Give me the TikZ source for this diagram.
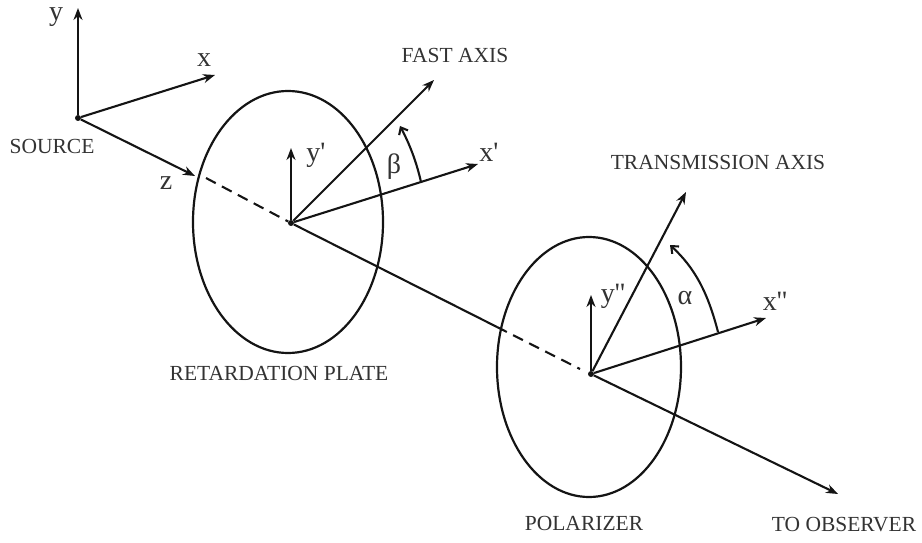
\documentclass[tikz,border=0pt]{standalone}
\usepackage{fontspec}
\setmainfont{Liberation Serif}
\newfontfamily\symfam{Liberation Serif}
\usetikzlibrary{arrows.meta}
\definecolor{ink}{gray}{0.08}
\definecolor{txt}{gray}{0.2}
\tikzset{
  axis/.style={draw=ink,line width=2.1pt,-{Stealth[length=12pt,width=9pt]}},
  plain/.style={draw=ink,line width=2.1pt},
  dashline/.style={draw=ink,line width=2.1pt,dash pattern=on 11pt off 7pt},
  plate/.style={draw=ink,line width=2.2pt},
  arcarrow/.style={draw=ink,line width=2.1pt,-{Straight Barb[length=6pt,width=10pt]}},
  dot/.style={circle,fill=ink,inner sep=0pt,minimum size=6pt},
  captext/.style={text=txt,font=\fontsize{21.5}{24}\selectfont,inner sep=0pt},
  symtext/.style={text=txt,font=\symfam\fontsize{28}{30}\selectfont,inner sep=0pt},
}
\begin{document}
\begin{tikzpicture}[x=1pt,y=-1pt]
\useasboundingbox (0,0) rectangle (922,543);
% coordinates
\node[dot] (s) at (78,118) {};
\coordinate (sy) at (78,8);
\coordinate (sx) at (215,75);
\coordinate (sz) at (195,176);
\coordinate (d1) at (206,178);
\node[dot] (o1) at (291,223) {};
\coordinate (y1) at (291,148);
\coordinate (f1) at (434,80);
\coordinate (x1) at (478,164);
\coordinate (a1s) at (421,182);
\coordinate (a1e) at (400,126);
\coordinate (d2a) at (497,327);
\coordinate (d2b) at (580,369);
\node[dot] (o2) at (591,374) {};
\coordinate (y2) at (591,295);
\coordinate (f2) at (686,192);
\coordinate (x2) at (766,318);
\coordinate (a2s) at (718,332);
\coordinate (a2e) at (670,245);
\coordinate (obs) at (838,494);
% plates
\draw[plate] (288,222) ellipse [x radius=95,y radius=131];
\draw[plate] (589,367) ellipse [x radius=92,y radius=130];
% source axes
\draw[axis] (s) -- (sy);
\draw[axis] (s) -- (sx);
\draw[axis] (s) -- (sz);
% main line
\draw[dashline] (d1) -- (o1);
\draw[plain] (o1) -- (d2a);
\draw[dashline] (d2a) -- (d2b);
\draw[axis] (o2) -- (obs);
% plate 1 axes
\draw[axis] (o1) -- (y1);
\draw[axis] (o1) -- (f1);
\draw[axis] (o1) -- (x1);
\draw[arcarrow] (a1s) .. controls (416,160) and (409,143) .. (a1e);
% plate 2 axes
\draw[axis] (o2) -- (y2);
\draw[axis] (o2) -- (f2);
\draw[axis] (o2) -- (x2);
\draw[arcarrow] (a2s) .. controls (708,293) and (695,268) .. (a2e);
% labels
\node[symtext] (ly) at (56,17) {y};
\node[symtext] (lx) at (204,60) {x};
\node[symtext] (lz) at (166,183) {z};
\node[captext] (lsrc) at (52,146) {SOURCE};
\node[symtext] (ly1) at (316,155) {y'};
\node[symtext] (lx1) at (489,152) {x'};
\node[symtext] (lb) at (394,167) {β};
\node[captext] (lfast) at (455,55) {FAST AXIS};
\node[captext] (lret) at (279,373) {RETARDATION PLATE};
\node[symtext] (ly2) at (613,296) {y''};
\node[symtext] (lx2) at (775,301) {x''};
\node[symtext] (la) at (685,298) {α};
\node[captext] (ltr) at (718,162) {TRANSMISSION AXIS};
\node[captext] (lpol) at (584,523) {POLARIZER};
\node[captext] (lobs) at (844,525) {TO OBSERVER};
\end{tikzpicture}
\end{document}
